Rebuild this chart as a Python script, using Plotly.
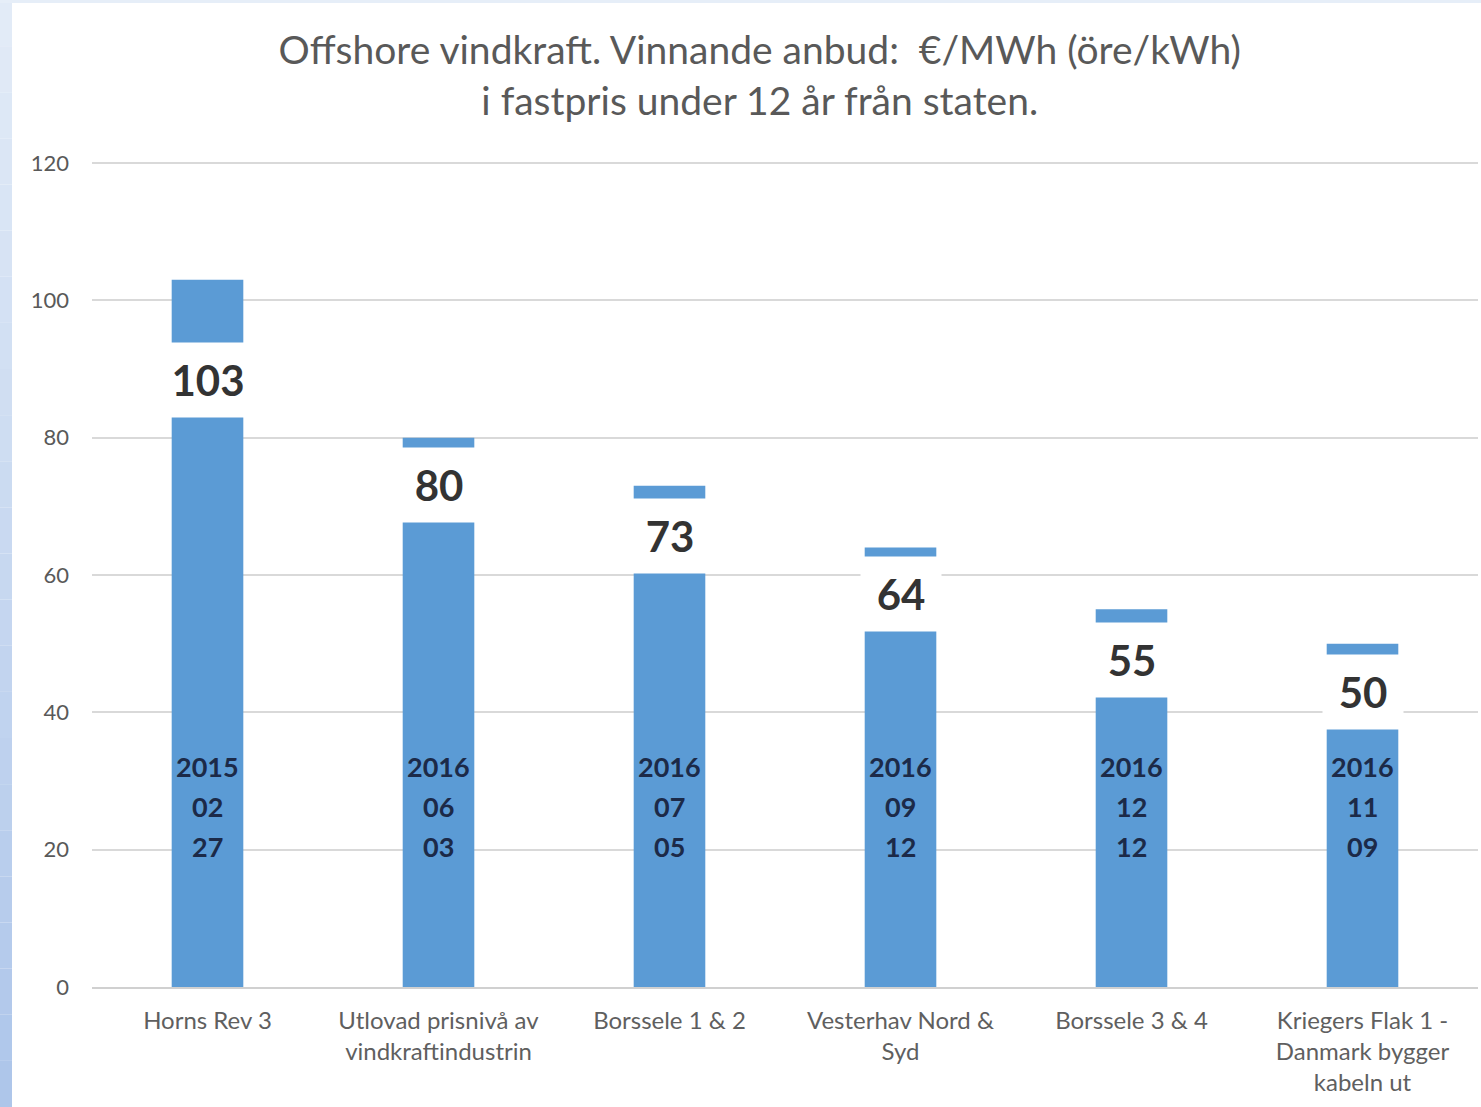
import plotly.graph_objects as go

categories = [
    "Horns Rev 3",
    "Utlovad prisnivå av<br>vindkraftindustrin",
    "Borssele 1 & 2",
    "Vesterhav Nord &<br>Syd",
    "Borssele 3 & 4",
    "Kriegers Flak 1 -<br>Danmark bygger<br>kabeln ut",
]
values = [103, 80, 73, 64, 55, 50]
years = ["2015", "2016", "2016", "2016", "2016", "2016"]
months = ["02", "06", "07", "09", "12", "11"]
days = ["27", "03", "05", "12", "12", "09"]
y_ticks = [0, 20, 40, 60, 80, 100, 120]

# how far (in data units) below the bar top each value label sits
label_drop = [14.6, 6.9, 7.3, 6.8, 7.4, 7.0]
date_levels = [32.1, 26.3, 20.4]

BLUE = "#5b9bd5"
FONT = "Lato"

fig = go.Figure()
fig.add_trace(go.Bar(
    x=categories, y=values, marker=dict(color=BLUE, line=dict(width=0)),
    width=0.31, hoverinfo="skip",
))

annotations = []
for c, v, yr, mo, dy, drop in zip(categories, values, years, months, days, label_drop):
    annotations.append(dict(
        x=c, y=v - drop, xref="x", yref="y", text=f"<b>{v}</b>",
        showarrow=False, bgcolor="white", width=78, height=72,
        font=dict(family=FONT, size=42, color="#333333"),
        xanchor="center", yanchor="middle",
    ))
    for part, lvl in zip([yr, mo, dy], date_levels):
        annotations.append(dict(
            x=c, y=lvl, xref="x", yref="y", text=f"<b>{part}</b>",
            showarrow=False, font=dict(family=FONT, size=27, color="#1c2a48"),
            xanchor="center", yanchor="middle",
        ))

# background: light blue frame strips on left (gradient) and top
shapes = []
top_col = (226, 235, 247)
bot_col = (174, 198, 234)
n = 24
for i in range(n):
    t = i / (n - 1)
    col = tuple(round(top_col[k] + (bot_col[k] - top_col[k]) * t) for k in range(3))
    shapes.append(dict(
        type="rect", xref="paper", yref="paper",
        x0=-92 / 1386, x1=-80 / 1386,
        y0=1 + 162 / 825 - (i + 1) * (1107 / 825) / n,
        y1=1 + 162 / 825 - i * (1107 / 825) / n,
        fillcolor="rgb(%d,%d,%d)" % col, line=dict(width=0), layer="below",
    ))
shapes.append(dict(
    type="rect", xref="paper", yref="paper",
    x0=-92 / 1386, x1=1 + 3 / 1386, y0=1 + 159 / 825, y1=1 + 162 / 825,
    fillcolor="#e6eef8", line=dict(width=0), layer="below",
))

fig.update_layout(
    width=1481, height=1107,
    margin=dict(l=92, r=3, t=162, b=120, pad=0),
    paper_bgcolor="white", plot_bgcolor="white",
    showlegend=False,
    bargap=0.69,
    title=dict(
        text="Offshore vindkraft. Vinnande anbud:  €/MWh (öre/kWh)<br>i fastpris under 12 år från staten.",
        x=0.513, xref="container", xanchor="center",
        y=1 - 64 / 1107, yref="container", yanchor="middle",
        font=dict(family=FONT, size=39, color="#595959"),
    ),
    xaxis=dict(
        showgrid=False, showline=True, linecolor="#d0d0d0", linewidth=2,
        tickfont=dict(family=FONT, size=24, color="#5f5f5f"),
        ticks="", ticklabelstandoff=11,
    ),
    yaxis=dict(
        range=[0, 120.15], tickvals=y_ticks, showgrid=True, gridcolor="#d9d9d9",
        gridwidth=2, zeroline=False, showline=False,
        tickfont=dict(family=FONT, size=22, color="#595959"),
        ticks="", ticklabelstandoff=22,
    ),
    annotations=annotations,
    shapes=shapes,
)

fig.write_html("out.html", config={"displayModeBar": False},
               post_script="document.body.style.margin='0';")
